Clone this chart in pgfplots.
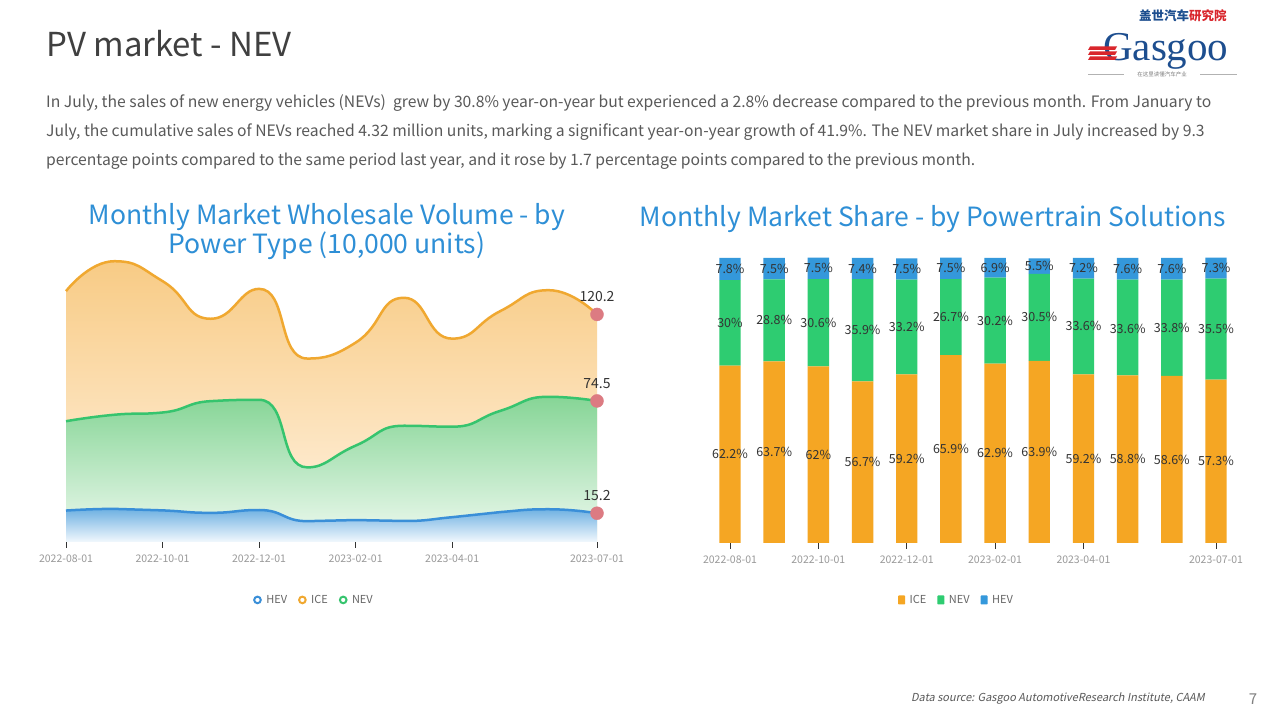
\documentclass[border=0pt]{standalone}
\usepackage{pgfplots}
\pgfplotsset{compat=1.18}
\usepackage{fontspec}
\setmainfont{Noto Sans CJK SC}
\newfontfamily\seriffont{Liberation Serif}
\newfontfamily\slfont[FakeSlant=0.2]{Noto Sans CJK SC}
\definecolor{icebar}{HTML}{F5A623}
\definecolor{nevbar}{HTML}{2ECC71}
\definecolor{hevbar}{HTML}{3498DB}
\definecolor{iceline}{HTML}{F0A830}
\definecolor{nevline}{HTML}{36C46E}
\definecolor{hevline}{HTML}{3A8FD8}
\definecolor{iceT}{HTML}{F8CB85}
\definecolor{iceB}{HTML}{FFF3E2}
\definecolor{nevT}{HTML}{86D596}
\definecolor{nevB}{HTML}{F0FAF1}
\definecolor{hevT}{HTML}{6FB1E2}
\definecolor{hevB}{HTML}{F2F8FD}
\definecolor{markc}{HTML}{DC7B82}
\definecolor{headgray}{HTML}{404040}
\definecolor{paragray}{HTML}{595959}
\definecolor{titleblue}{HTML}{2E8FD6}
\definecolor{tickgray}{HTML}{999999}
\definecolor{legtext}{HTML}{666666}
\definecolor{labtext}{HTML}{333333}
\definecolor{logoblue}{HTML}{1D4E8F}
\definecolor{logored}{HTML}{D9262C}
% --- ECharts-like smoothing plot handler (control points clamped between neighbours)
\makeatletter
\newcount\ec@n
\def\ec@smooth{0.5}
\def\pgfplothandlerecharts{%
  \def\pgf@plotstreamstart{%
    \global\ec@n=0\relax
    \global\let\pgf@plotstreampoint=\ec@point
    \global\let\pgf@plotstreamspecial=\pgfutil@gobble
    \global\let\pgf@plotstreamend=\ec@finish
  }%
}
\def\ec@point#1{%
  \pgf@process{#1}%
  \xdef\ec@nx{\pgf@sys@tonumber\pgf@x}%
  \xdef\ec@ny{\pgf@sys@tonumber\pgf@y}%
  \ifnum\ec@n=0\relax
    \pgf@plot@first@action{\pgfqpoint{\ec@nx pt}{\ec@ny pt}}%
    \xdef\ec@cx{\ec@nx}\xdef\ec@cy{\ec@ny}%
    \xdef\ec@cpx{\ec@nx}\xdef\ec@cpy{\ec@ny}%
    \global\ec@n=1\relax
  \else
    \ifnum\ec@n=1\relax
      \xdef\ec@px{\ec@cx}\xdef\ec@py{\ec@cy}%
      \xdef\ec@cx{\ec@nx}\xdef\ec@cy{\ec@ny}%
      \global\ec@n=2\relax
    \else
      \ec@compute
      \pgfpathcurveto{\pgfqpoint{\ec@cpx pt}{\ec@cpy pt}}{\pgfqpoint{\ec@cax pt}{\ec@cay pt}}{\pgfqpoint{\ec@cx pt}{\ec@cy pt}}%
      \xdef\ec@cpx{\ec@ncx}\xdef\ec@cpy{\ec@ncy}%
      \xdef\ec@px{\ec@cx}\xdef\ec@py{\ec@cy}%
      \xdef\ec@cx{\ec@nx}\xdef\ec@cy{\ec@ny}%
    \fi
  \fi
}
\def\ec@finish{%
  \ifnum\ec@n>1\relax
    \pgfpathcurveto{\pgfqpoint{\ec@cpx pt}{\ec@cpy pt}}{\pgfqpoint{\ec@cx pt}{\ec@cy pt}}{\pgfqpoint{\ec@cx pt}{\ec@cy pt}}%
  \fi
}
\def\ec@compute{%
  \pgfmathsetmacro\ec@vx{\ec@nx-\ec@px}%
  \pgfmathsetmacro\ec@vy{\ec@ny-\ec@py}%
  \pgfmathsetmacro\ec@lp{veclen(\ec@cx-\ec@px,\ec@cy-\ec@py)}%
  \pgfmathsetmacro\ec@ln{veclen(\ec@nx-\ec@cx,\ec@ny-\ec@cy)}%
  \pgfmathsetmacro\ec@r{\ec@ln/(\ec@ln+\ec@lp)}%
  \pgfmathsetmacro\ec@ncx{\ec@cx+\ec@vx*\ec@smooth*\ec@r}%
  \pgfmathsetmacro\ec@ncy{\ec@cy+\ec@vy*\ec@smooth*\ec@r}%
  \pgfmathsetmacro\ec@ncx{max(min(\ec@ncx,max(\ec@nx,\ec@cx)),min(\ec@nx,\ec@cx))}%
  \pgfmathsetmacro\ec@ncy{max(min(\ec@ncy,max(\ec@ny,\ec@cy)),min(\ec@ny,\ec@cy))}%
  \pgfmathsetmacro\ec@q{\ec@lp/\ec@ln}%
  \pgfmathsetmacro\ec@cax{\ec@cx-(\ec@ncx-\ec@cx)*\ec@q}%
  \pgfmathsetmacro\ec@cay{\ec@cy-(\ec@ncy-\ec@cy)*\ec@q}%
  \pgfmathsetmacro\ec@cax{max(min(\ec@cax,max(\ec@px,\ec@cx)),min(\ec@px,\ec@cx))}%
  \pgfmathsetmacro\ec@cay{max(min(\ec@cay,max(\ec@py,\ec@cy)),min(\ec@py,\ec@cy))}%
  \pgfmathsetmacro\ec@q{\ec@ln/\ec@lp}%
  \pgfmathsetmacro\ec@ncx{\ec@cx+(\ec@cx-\ec@cax)*\ec@q}%
  \pgfmathsetmacro\ec@ncy{\ec@cy+(\ec@cy-\ec@cay)*\ec@q}%
}
\tikzset{ec smooth/.code={\let\tikz@plot@handler=\pgfplothandlerecharts}}
\makeatother
\pgfplotsset{
  commonx/.style={
    scale only axis, anchor=south west,
    axis line style={draw=none},
    ytick=\empty,
    xtick={0,2,4,6,8,11},
    xticklabels={2022-08-01,2022-10-01,2022-12-01,2023-02-01,2023-04-01,2023-07-01},
    xtick pos=left, tick align=outside, major tick length=6pt,
    tick style={color=black!80, line width=0.9pt},
    xticklabel style={font=\fontsize{10.5}{12}\selectfont, text=tickgray, yshift=-3pt},
    clip=false,
    legend columns=-1,
    legend style={draw=none, fill=none, font=\fontsize{11}{13}\selectfont, text=legtext,
      /tikz/every odd column/.append style={column sep=2.5pt},
      /tikz/every even column/.append style={column sep=9pt}},
  }
}
\begin{document}
\begin{tikzpicture}[x=1pt,y=1pt]
\useasboundingbox (0,0) rectangle (1280,720);
\fill[white] (0,0) rectangle (1280,720);
% header
\node[anchor=west, inner sep=0, text=headgray, font=\fontsize{33}{38}\selectfont] at (46,676) {PV market - NEV};
\node[anchor=west, inner sep=0, text=paragray, font=\fontsize{15.7}{18}\selectfont] at (46,617) {In July, the sales of new energy vehicles (NEVs)\ \ grew by 30.8\% year-on-year but experienced a 2.8\% decrease compared to the previous month. From January to};
\node[anchor=west, inner sep=0, text=paragray, font=\fontsize{15.7}{18}\selectfont] at (46,588) {July, the cumulative sales of NEVs reached 4.32 million units, marking a significant year-on-year growth of 41.9\%. The NEV market share in July increased by 9.3};
\node[anchor=west, inner sep=0, text=paragray, font=\fontsize{15.7}{18}\selectfont] at (46,559) {percentage points compared to the same period last year, and it rose by 1.7 percentage points compared to the previous month.};
% logo
\node[anchor=west, inner sep=0, font=\bfseries\fontsize{12.5}{13}\selectfont] at (1139,704) {\textcolor{logoblue}{盖世汽车}\textcolor{logored}{研究院}};
\node[anchor=base west, inner sep=0, text=logoblue, font=\seriffont\fontsize{41}{41}\selectfont] at (1103,659) {Gasgoo};
\foreach \yy in {660,665,670} {\fill[logored] (1088,\yy) -- (1115,\yy) -- (1117,\yy+3.5) -- (1090,\yy+3.5) -- cycle;}
\draw[gray!60, line width=0.4pt] (1088,646) -- (1124,646) (1200,646) -- (1237,646);
\node[inner sep=0, text=gray, font=\fontsize{5.5}{6}\selectfont] at (1162,646) {在这里读懂汽车产业};
% titles
\node[align=center, text=titleblue, font=\fontsize{26.5}{29}\selectfont] at (327,488) {Monthly Market Wholesale Volume - by\\Power Type (10,000 units)};
\node[text=titleblue, font=\fontsize{26.5}{29}\selectfont] at (933,501) {Monthly Market Share - by Powertrain Solutions};
% footer
\node[anchor=east, inner sep=0, text=paragray, font=\slfont\fontsize{11}{13}\selectfont] at (1205,22) {Data source: Gasgoo AutomotiveResearch Institute, CAAM};
\node[inner sep=0, text=gray, font=\fontsize{15}{16}\selectfont] at (1253,21) {7};

% ---------------- left chart
\begin{axis}[commonx,
  at={(66pt,178pt)},
  width=531pt, height=284pt,
  xmin=0, xmax=11, ymin=0, ymax=150,
  legend image code/.code={\draw[line width=2pt, fill=white] (3.5pt,0pt) circle (3.3pt);},
  legend style={at={(0.467,-0.204)}, anchor=center},
]
\addplot[draw=none, ec smooth, top color=iceT, bottom color=iceB, forget plot] coordinates {(0,132.5)(1,148.3)(2,137.8)(3,117.9)(4,133.7)(5,96.9)(6,105.3)(7,129.0)(8,107.4)(9,122.0)(10,133.0)(11,120.2)} \closedcycle;
\addplot[draw=none, ec smooth, top color=nevT, bottom color=nevB, forget plot] coordinates {(0,63.8)(1,67.2)(2,68.4)(3,74.4)(4,75.1)(5,39.4)(6,50.9)(7,61.4)(8,60.9)(9,69.3)(10,76.7)(11,74.5)} \closedcycle;
\addplot[draw=none, ec smooth, top color=hevT, bottom color=hevB, forget plot] coordinates {(0,16.6)(1,17.5)(2,16.7)(3,15.4)(4,16.9)(5,11.0)(6,11.6)(7,11.1)(8,13.1)(9,15.8)(10,17.3)(11,15.2)} \closedcycle;
\addplot[ec smooth, color=hevline, line width=2.5pt] coordinates {(0,16.6)(1,17.5)(2,16.7)(3,15.4)(4,16.9)(5,11.0)(6,11.6)(7,11.1)(8,13.1)(9,15.8)(10,17.3)(11,15.2)};
\addplot[ec smooth, color=iceline, line width=2.5pt] coordinates {(0,132.5)(1,148.3)(2,137.8)(3,117.9)(4,133.7)(5,96.9)(6,105.3)(7,129.0)(8,107.4)(9,122.0)(10,133.0)(11,120.2)};
\addplot[ec smooth, color=nevline, line width=2.5pt] coordinates {(0,63.8)(1,67.2)(2,68.4)(3,74.4)(4,75.1)(5,39.4)(6,50.9)(7,61.4)(8,60.9)(9,69.3)(10,76.7)(11,74.5)};
\addplot[only marks, mark=*, mark size=6.5pt, color=markc, forget plot, nodes near coords, point meta=explicit symbolic,
  every node near coord/.append style={text=labtext, font=\fontsize{14}{16}\selectfont, yshift=9pt}]
  coordinates {(11,120.2)[120.2] (11,74.5)[74.5] (11,15.2)[15.2]};
\legend{HEV,ICE,NEV}
\end{axis}

% ---------------- right chart
\begin{axis}[commonx,
  at={(707.9pt,177pt)},
  width=530.2pt, height=285pt,
  xmin=-0.5, xmax=11.5, ymin=0, ymax=100,
  ybar stacked, bar width=21.4pt,
  legend image code/.code={\fill[rounded corners=0.8pt] (0pt,-4.5pt) rectangle (7pt,4.5pt);},
  legend style={at={(0.469,-0.2)}, anchor=center},
]
\addplot[fill=icebar, draw=none] coordinates {(0,62.2)(1,63.7)(2,62.0)(3,56.7)(4,59.2)(5,65.9)(6,62.9)(7,63.9)(8,59.2)(9,58.8)(10,58.6)(11,57.3)};
\addplot[fill=nevbar, draw=none] coordinates {(0,30.0)(1,28.8)(2,30.6)(3,35.9)(4,33.2)(5,26.7)(6,30.2)(7,30.5)(8,33.6)(9,33.6)(10,33.8)(11,35.5)};
\addplot[fill=hevbar, draw=none] coordinates {(0,7.8)(1,7.5)(2,7.5)(3,7.4)(4,7.5)(5,7.5)(6,6.9)(7,5.5)(8,7.2)(9,7.6)(10,7.6)(11,7.3)};
\legend{ICE,NEV,HEV}
\end{axis}
\begin{axis}[
  at={(707.9pt,177pt)}, anchor=south west, scale only axis,
  width=530.2pt, height=285pt,
  xmin=-0.5, xmax=11.5, ymin=0, ymax=100,
  hide axis, clip=false,
  nodes near coords, point meta=explicit symbolic, nodes near coords align=center,
  every node near coord/.append style={text=labtext, font=\fontsize{12.5}{14}\selectfont, inner sep=0pt},
]
\addplot[draw=none, mark=none] coordinates {(0,31.1)[62.2\%] (1,31.85)[63.7\%] (2,31.0)[62\%] (3,28.35)[56.7\%] (4,29.6)[59.2\%] (5,32.95)[65.9\%] (6,31.45)[62.9\%] (7,31.95)[63.9\%] (8,29.6)[59.2\%] (9,29.4)[58.8\%] (10,29.3)[58.6\%] (11,28.65)[57.3\%]};
\addplot[draw=none, mark=none] coordinates {(0,77.2)[30\%] (1,78.1)[28.8\%] (2,77.3)[30.6\%] (3,74.65)[35.9\%] (4,75.8)[33.2\%] (5,79.25)[26.7\%] (6,78.0)[30.2\%] (7,79.15)[30.5\%] (8,76.0)[33.6\%] (9,75.0)[33.6\%] (10,75.5)[33.8\%] (11,75.05)[35.5\%]};
\addplot[draw=none, mark=none] coordinates {(0,96.1)[7.8\%] (1,96.25)[7.5\%] (2,96.35)[7.5\%] (3,96.3)[7.4\%] (4,96.15)[7.5\%] (5,96.35)[7.5\%] (6,96.55)[6.9\%] (7,97.15)[5.5\%] (8,96.4)[7.2\%] (9,96.2)[7.6\%] (10,96.2)[7.6\%] (11,96.4)[7.3\%]};
\end{axis}
\end{tikzpicture}
\end{document}
